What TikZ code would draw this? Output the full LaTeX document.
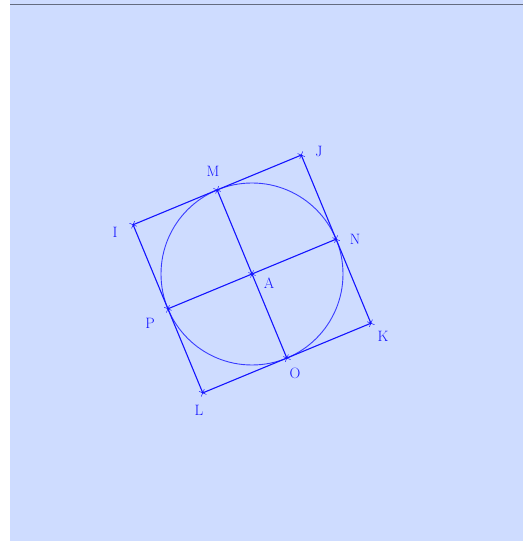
\documentclass[tikz,border=0pt]{standalone}
\usetikzlibrary{calc}
\definecolor{bgblue}{RGB}{206,220,255}
\definecolor{topline}{RGB}{100,108,128}
\definecolor{geo}{RGB}{20,20,255}
\tikzset{
  geoline/.style={draw=geo,line width=1.1pt},
  circline/.style={draw=geo!80!bgblue,line width=0.9pt},
  lbl/.style={text=geo,font=\fontsize{15}{17}\selectfont,inner sep=0pt},
  crossmark/.pic={\draw[geo,line width=0.5pt] (-2.8,-2.8)--(2.8,2.8) (-2.8,2.8)--(2.8,-2.8);}
}
\begin{document}
\begin{tikzpicture}[x=1pt,y=1pt]
\useasboundingbox (0,0) rectangle (523,541);
\fill[bgblue] (10,0) rectangle (523,541);
\draw[topline,line width=1pt] (10,536) -- (523,536);
\coordinate (A) at (252,267);
\def\r{91}
\coordinate (M) at ($(A)+(112.5:\r)$);
\coordinate (N) at ($(A)+(22.5:\r)$);
\coordinate (O) at ($(A)+(-67.5:\r)$);
\coordinate (P) at ($(A)+(202.5:\r)$);
\coordinate (J) at ($(A)+(67.5:128.7)$);
\coordinate (K) at ($(A)+(-22.5:128.7)$);
\coordinate (L) at ($(A)+(-112.5:128.7)$);
\coordinate (I) at ($(A)+(157.5:128.7)$);
\draw[circline] (A) circle (\r);
\draw[geoline] (I) -- (J) -- (K) -- (L) -- cycle;
\draw[geoline] (M) -- (O);
\draw[geoline] (P) -- (N);
\foreach \p in {A,M,N,O,P,I,J,K,L} \pic[rotate=22.5] at (\p) {crossmark};
\node[lbl] (lI) at (115,309) {I};
\node[lbl] (lJ) at (319,389) {J};
\node[lbl] (lM) at (213,370) {M};
\node[lbl] (lN) at (355,302) {N};
\node[lbl] (lA) at (269,258) {A};
\node[lbl] (lP) at (150,218) {P};
\node[lbl] (lK) at (383,205) {K};
\node[lbl] (lL) at (199,131) {L};
\node[lbl] (lO) at (295,168) {O};
\end{tikzpicture}
\end{document}
